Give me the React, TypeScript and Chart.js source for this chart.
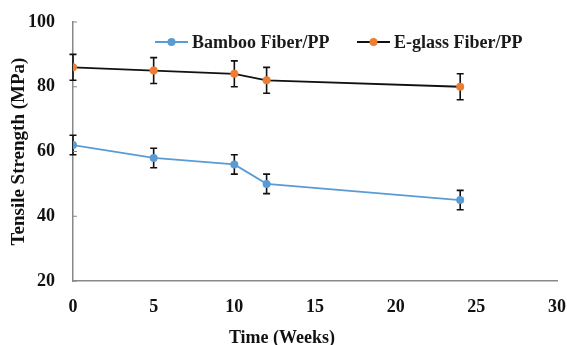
import React, { useEffect, useRef } from "react";
import { Chart, registerables } from "chart.js";

Chart.register(...registerables);

const weeks = [0, 5, 10, 12, 24];
const bamboo = [62, 58, 56, 50, 45];
const bambooErr = [3, 3, 3, 3, 3];
const eglass = [86, 85, 84, 82, 80];
const eglassErr = [4, 4, 4, 4, 4];
const seriesNames = ["Bamboo Fiber/PP", "E-glass Fiber/PP"];
const xTickValues = [0, 5, 10, 15, 20, 25, 30];
const yTickValues = [20, 40, 60, 80, 100];
const xTitle = "Time (Weeks)";
const yTitle = "Tensile Strength (MPa)";

const BLUE = "#5B9BD5";
const ORANGE = "#ED7D31";
const FONT = "'Liberation Serif', 'Times New Roman', serif";

export default function App() {
  const ref = useRef<HTMLCanvasElement | null>(null);
  useEffect(() => {
    document.body.style.margin = "0";
    const errs = [bambooErr, eglassErr];
    const errorBars = {
      id: "errorBars",
      beforeDatasetsDraw(chart: any) {
        const { ctx, scales } = chart;
        const xs = scales.x, ys = scales.y;
        ctx.save();
        ctx.strokeStyle = "#111";
        ctx.lineWidth = 1.6;
        chart.data.datasets.forEach((ds: any, i: number) => {
          ds.data.forEach((p: any, j: number) => {
            const px = xs.getPixelForValue(p.x);
            const top = ys.getPixelForValue(p.y + errs[i][j]);
            const bot = ys.getPixelForValue(p.y - errs[i][j]);
            ctx.beginPath();
            ctx.moveTo(px, top);
            ctx.lineTo(px, bot);
            ctx.moveTo(px - 3.5, top);
            ctx.lineTo(px + 3.5, top);
            ctx.moveTo(px - 3.5, bot);
            ctx.lineTo(px + 3.5, bot);
            ctx.stroke();
          });
        });
        ctx.strokeStyle = "#888";
        ctx.lineWidth = 1;
        yTickValues.forEach((v) => {
          const py = ys.getPixelForValue(v);
          ctx.beginPath();
          ctx.moveTo(xs.left, py);
          ctx.lineTo(xs.left + 4, py);
          ctx.stroke();
        });
        ctx.restore();
      },
      afterDraw(chart: any) {
        const { ctx } = chart;
        ctx.save();
        const items = [
          { x: 155, color: BLUE, lineColor: BLUE, text: seriesNames[0] },
          { x: 357, color: ORANGE, lineColor: "#111", text: seriesNames[1] },
        ];
        const y = 42;
        items.forEach((it) => {
          ctx.strokeStyle = it.lineColor;
          ctx.lineWidth = 1.8;
          ctx.beginPath();
          ctx.moveTo(it.x, y);
          ctx.lineTo(it.x + 33, y);
          ctx.stroke();
          ctx.fillStyle = it.color;
          ctx.beginPath();
          ctx.arc(it.x + 16.5, y, 4, 0, Math.PI * 2);
          ctx.fill();
          ctx.fillStyle = "#1a1a1a";
          ctx.font = `bold 18px ${FONT}`;
          ctx.textBaseline = "middle";
          ctx.textAlign = "left";
          ctx.fillText(it.text, it.x + 37, y + 1);
        });
        ctx.fillStyle = "#111";
        ctx.font = `bold 18px ${FONT}`;
        ctx.textAlign = "center";
        ctx.textBaseline = "middle";
        ctx.fillText(xTitle, 282, 338);
        ctx.restore();
      },
    };

    const chart = new Chart(ref.current!, {
      type: "line",
      data: {
        datasets: [
          {
            label: seriesNames[0],
            data: weeks.map((w, i) => ({ x: w, y: bamboo[i] })),
            borderColor: BLUE,
            backgroundColor: BLUE,
            borderWidth: 1.8,
            pointRadius: 4,
            pointBorderWidth: 0,
            pointBackgroundColor: BLUE,
            tension: 0,
          },
          {
            label: seriesNames[1],
            data: weeks.map((w, i) => ({ x: w, y: eglass[i] })),
            borderColor: "#111",
            backgroundColor: ORANGE,
            borderWidth: 1.8,
            pointRadius: 4,
            pointBorderWidth: 0,
            pointBackgroundColor: ORANGE,
            tension: 0,
          },
        ],
      },
      options: {
        animation: false,
        responsive: false,
        maintainAspectRatio: false,
        layout: { padding: { top: 22, right: 0, left: 0, bottom: 0 } },
        plugins: { legend: { display: false }, tooltip: { enabled: false } },
        scales: {
          x: {
            type: "linear",
            min: 0,
            max: 30,
            afterBuildTicks: (s: any) => {
              s.ticks = xTickValues.map((v) => ({ value: v }));
            },
            afterFit: (s: any) => {
              s.height = 64;
              s.paddingLeft = 0;
              s.paddingRight = 10;
            },
            grid: { display: false, drawTicks: false },
            border: { display: true, color: "#888", width: 1.5 },
            ticks: {
              padding: 16,
              color: "#111",
              font: { family: FONT, size: 18, weight: "bold" },
            },
            title: { display: false },
          },
          y: {
            min: 20,
            max: 100,
            afterBuildTicks: (s: any) => {
              s.ticks = yTickValues.map((v) => ({ value: v }));
            },
            afterFit: (s: any) => {
              s.width = 73;
              s.paddingTop = 0;
              s.paddingBottom = 0;
            },
            grid: { display: false, drawTicks: false },
            border: { display: true, color: "#888", width: 1.5 },
            ticks: {
              padding: 18,
              color: "#111",
              font: { family: FONT, size: 18, weight: "bold" },
            },
            title: {
              display: true,
              text: yTitle,
              color: "#111",
              padding: { top: 8, bottom: 0 },
              font: { family: FONT, size: 19, weight: "bold", lineHeight: 1.2 },
            },
          },
        },
      } as any,
      plugins: [errorBars],
    });
    return () => chart.destroy();
  }, []);
  return (
    <div style={{ width: 567, height: 345, background: "#fff" }}>
      <canvas ref={ref} width={567} height={345} style={{ display: "block" }} />
    </div>
  );
}
